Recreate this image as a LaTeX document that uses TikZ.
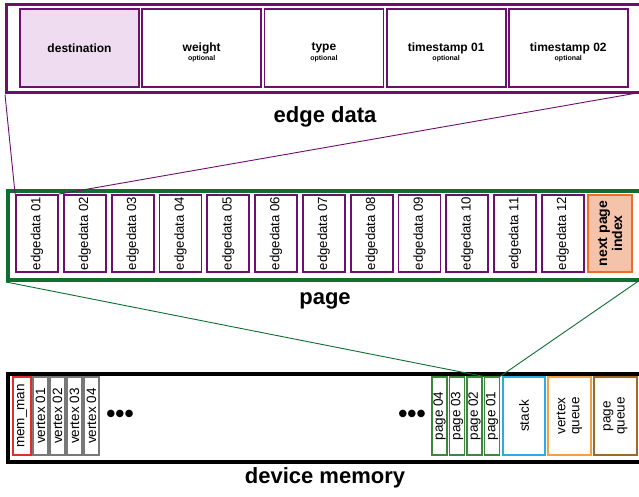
\documentclass[tikz,border=0pt]{standalone}
\usepackage{fontspec}
\setmainfont{Liberation Sans}
\definecolor{epurple}{RGB}{110,15,110}
\definecolor{efill}{RGB}{240,220,240}
\definecolor{pgreen}{RGB}{15,110,50}
\definecolor{npfill}{RGB}{245,195,170}
\definecolor{npdraw}{RGB}{238,110,40}
\definecolor{memred}{RGB}{225,45,45}
\definecolor{vgray}{RGB}{120,120,120}
\definecolor{pggreen}{RGB}{60,135,60}
\definecolor{stblue}{RGB}{45,170,225}
\definecolor{vqorange}{RGB}{240,160,70}
\definecolor{pqbrown}{RGB}{160,105,35}
\tikzset{
  outerbox/.style={draw, rectangle, inner sep=0pt, anchor=north west},
  fieldbox/.style={draw=epurple, line width=1.8pt, rectangle, inner sep=0pt,
    minimum width=119pt, minimum height=78pt},
  fieldtext/.style={font=\fontsize{12}{13}\selectfont\bfseries},
  opt/.style={font=\fontsize{7}{8}\selectfont\bfseries},
  edbox/.style={draw=epurple, line width=1.8pt, rectangle, inner sep=0pt,
    minimum width=42pt, minimum height=77pt},
  edtext/.style={rotate=90, font=\fontsize{13.2}{14}\selectfont},
  memsmall/.style={rectangle, inner sep=0pt, line width=1.1pt,
    minimum height=78pt},
  memtext/.style={rotate=90, font=\fontsize{13.5}{14}\selectfont, align=center},
  biglabel/.style={font=\fontsize{22}{24}\selectfont\bfseries},
  dots/.style={font=\fontsize{26}{28}\selectfont\bfseries}
}
\begin{document}
\begin{tikzpicture}[x=1pt,y=-1pt]
\clip (0,0) rectangle (639,497);
\fill[white] (0,0) rectangle (639,497);

% edge data
\node[outerbox, draw=epurple, line width=3pt, minimum width=645pt, minimum height=88pt] (edgebox) at (5,3.5) {};
\node[fieldbox, fill=efill] (dest) at (79.5,48) {};
\node[fieldbox] (weight) at (201.7,48) {};
\node[fieldbox] (type) at (323.9,48) {};
\node[fieldbox] (ts1) at (446.1,48) {};
\node[fieldbox] (ts2) at (568.3,48) {};
\node[fieldtext] at (dest) {destination};
\node[fieldtext] at (weight) {weight};
\node[fieldtext] at (type) {type};
\node[fieldtext] at (ts1) {timestamp 01};
\node[fieldtext] at (ts2) {timestamp 02};
\node[opt] at ([yshift=-10.5pt]weight.center) {optional};
\node[opt] at ([yshift=-10.5pt]type.center) {optional};
\node[opt] at ([yshift=-10.5pt]ts1.center) {optional};
\node[opt] at ([yshift=-10.5pt]ts2.center) {optional};
\node[biglabel] (edlabel) at (325,117) {edge data};

% page
\node[outerbox, draw=pgreen, line width=4pt, minimum width=645pt, minimum height=89pt] (pagebox) at (6,189) {};
\foreach \i/\t in {1/01,2/02,3/03,4/04,5/05,6/06,7/07,8/08,9/09,10/10,11/11,12/12}{
  \node[edbox] (ed\i) at ({37+47.8*(\i-1)},233.5) {};
  \node[edtext] at (ed\i) {edgedata \t};
}
\node[edbox, draw=npdraw, fill=npfill, minimum width=44pt] (np) at (610,233.5) {};
\node[edtext, align=center, font=\fontsize{14}{15}\selectfont\bfseries] at (np) {next page\\index};
\node[biglabel] (pglabel) at (325,301) {page};

% device memory
\node[outerbox, draw=black, line width=4pt, minimum width=645pt, minimum height=88pt] (membox) at (6,372) {};
\node[memsmall, draw=memred, minimum width=18pt] (mm) at (22,416) {};
\node[memtext] at (mm) {mem\_man};
\foreach \i/\x in {1/40.5,2/57.5,3/74.5,4/91.5}{
  \node[memsmall, draw=vgray, minimum width=15pt] (v\i) at (\x,416) {};
  \node[memtext] at (v\i) {vertex 0\i};
}
\node[dots] (dl) at (120,416) {•••};
\node[dots] (dr) at (412,416) {•••};
\foreach \i/\x in {4/439.5,3/457,2/474.5,1/492}{
  \node[memsmall, draw=pggreen, minimum width=15pt] (p\i) at (\x,416) {};
  \node[memtext] at (p\i) {page 0\i};
}
\node[memsmall, draw=stblue, minimum width=42pt] (stack) at (524,416) {};
\node[memtext] at (stack) {stack};
\node[memsmall, draw=vqorange, minimum width=43pt] (vq) at (569.5,416) {};
\node[memtext] at (vq) {vertex\\queue};
\node[memsmall, draw=pqbrown, minimum width=43pt] (pq) at (615.5,416) {};
\node[memtext] at (pq) {page\\queue};
\node[biglabel] (dmlabel) at (325,478) {device memory};

% connectors
\coordinate (eR) at (640,92.5);
\coordinate (pR) at (640,280);
\draw[epurple, line width=0.9pt] (edgebox.south west) -- (ed1.north west);
\draw[epurple, line width=0.9pt] (eR) -- (ed1.north east);
\draw[pgreen, line width=0.9pt] (pagebox.south west) -- (p1.north west);
\draw[pgreen, line width=0.9pt] (pR) -- (p1.north east);
\end{tikzpicture}
\end{document}
